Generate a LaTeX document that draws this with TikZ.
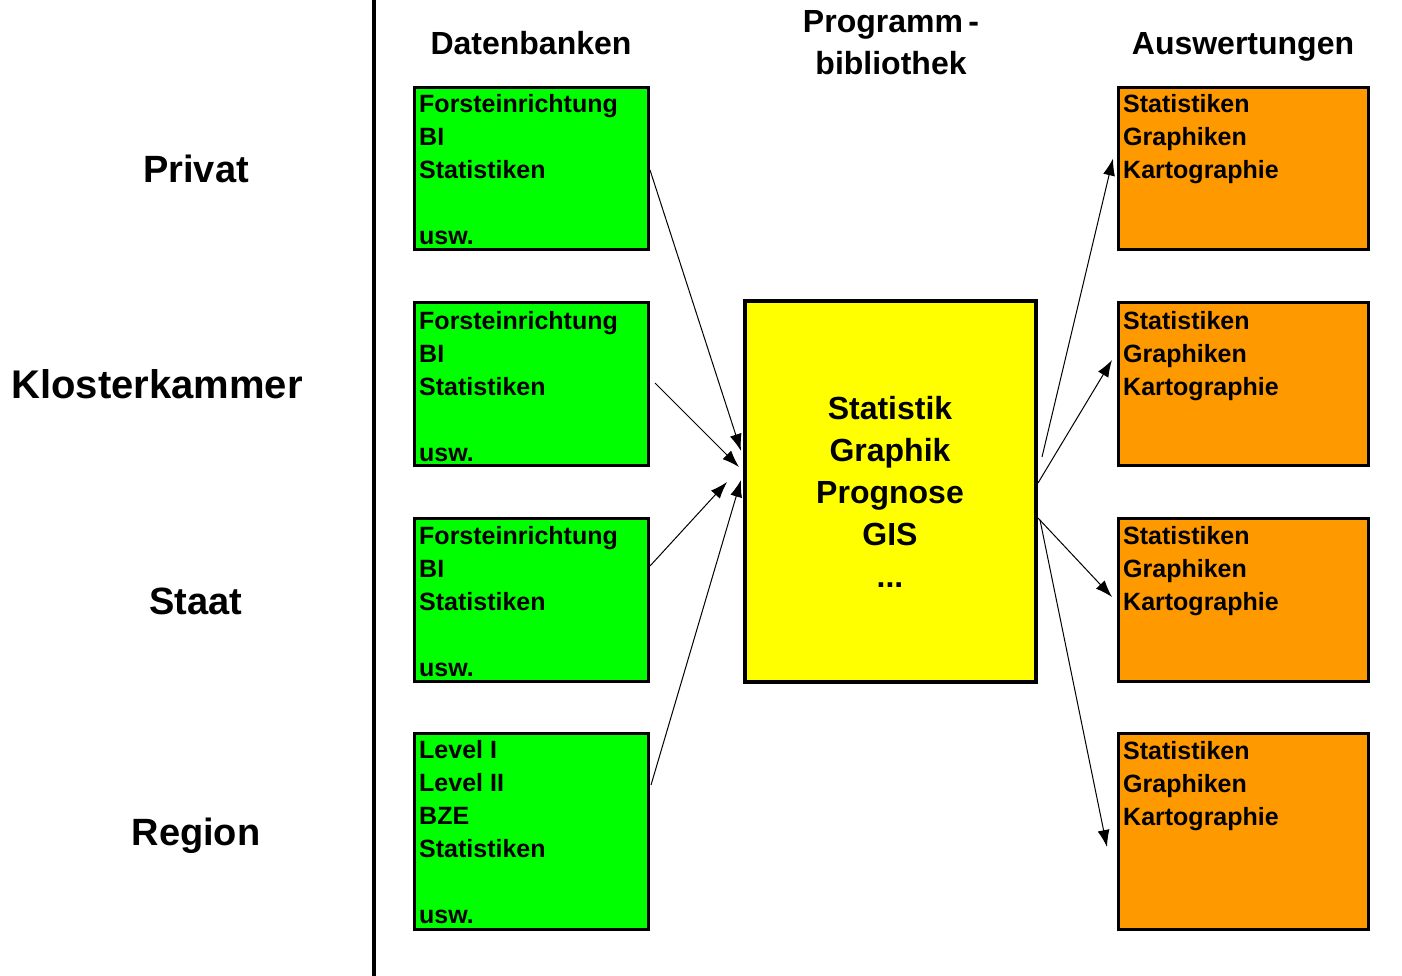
\documentclass[tikz,border=0pt]{standalone}
\usepackage{fontspec}
\setmainfont{Liberation Sans}
\usetikzlibrary{arrows.meta,calc}
\definecolor{boxgreen}{RGB}{0,255,0}
\definecolor{boxorange}{RGB}{255,153,0}
\definecolor{boxyellow}{RGB}{255,255,0}
\newcommand{\toplines}[2]{\parbox[t]{#1}{#2}}
\begin{document}
\begin{tikzpicture}[x=1pt,y=-1pt,
  gbox/.style={draw=black, line width=3pt, fill=boxgreen, minimum width=234pt, inner sep=0pt},
  obox/.style={draw=black, line width=3pt, fill=boxorange, minimum width=250pt, inner sep=0pt},
  ybox/.style={draw=black, line width=4pt, fill=boxyellow, minimum width=291pt, minimum height=381pt, inner sep=0pt},
  boxtext/.style={anchor=base west, inner sep=0pt, font=\bfseries\fontsize{25}{33}\selectfont},
  midtext/.style={anchor=base, inner sep=0pt, font=\bfseries\fontsize{32}{42}\selectfont},
  headtext/.style={anchor=base, inner sep=0pt, font=\bfseries\fontsize{32}{42}\selectfont},
  sidetext/.style={anchor=base, inner sep=0pt, font=\bfseries\fontsize{38}{44}\selectfont},
  conn/.style={line width=1pt, -{Latex[length=17pt,width=12pt]}}]
\useasboundingbox[fill=white] (0,0) rectangle (1402,976);

% divider
\draw[line width=4pt] (373.5,0) -- (373.5,976);

% side labels
\node[sidetext] (lpriv) at (196,183) {Privat};
\node[sidetext, font=\bfseries\fontsize{40}{44}\selectfont] (lklos) at (157,398) {Klosterkammer};
\node[sidetext] (lstaat) at (196,614) {Staat};
\node[sidetext] (lreg) at (196,845) {Region};

% headings
\node[headtext] (hdb) at (531,55) {Datenbanken};
\node[headtext] (hpb) at (891,33) {\toplines{260pt}{\centering Programm\,-\\bibliothek}};
\node[headtext] (hau) at (1243,55) {Auswertungen};

% green boxes
\node[gbox, minimum height=162pt] (g1) at (531.5,168.5) {};
\node[gbox, minimum height=163pt] (g2) at (531.5,384) {};
\node[gbox, minimum height=163pt] (g3) at (531.5,600) {};
\node[gbox, minimum height=196pt] (g4) at (531.5,831.5) {};
\node[boxtext] (t1) at (419,113) {\toplines{228pt}{Forsteinrichtung\\BI\\Statistiken\\[33pt]usw.}};
\node[boxtext] (t2) at (419,329) {\toplines{228pt}{Forsteinrichtung\\BI\\Statistiken\\[33pt]usw.}};
\node[boxtext] (t3) at (419,544) {\toplines{228pt}{Forsteinrichtung\\BI\\Statistiken\\[33pt]usw.}};
\node[boxtext] (t4) at (419,758) {\toplines{228pt}{Level I\\Level II\\BZE\\Statistiken\\[33pt]usw.}};

% yellow box
\node[ybox] (y) at (890.5,491.5) {};
\node[midtext] (yt) at (890,419) {\toplines{280pt}{\centering Statistik\\Graphik\\Prognose\\GIS\\...}};

% orange boxes
\node[obox, minimum height=162pt] (o1) at (1243.5,168.5) {};
\node[obox, minimum height=163pt] (o2) at (1243.5,384) {};
\node[obox, minimum height=163pt] (o3) at (1243.5,600) {};
\node[obox, minimum height=196pt] (o4) at (1243.5,831.5) {};
\node[boxtext] (u1) at (1123,113) {\toplines{240pt}{Statistiken\\Graphiken\\Kartographie}};
\node[boxtext] (u2) at (1123,329) {\toplines{240pt}{Statistiken\\Graphiken\\Kartographie}};
\node[boxtext] (u3) at (1123,544) {\toplines{240pt}{Statistiken\\Graphiken\\Kartographie}};
\node[boxtext] (u4) at (1123,759) {\toplines{240pt}{Statistiken\\Graphiken\\Kartographie}};

% connectors in
\draw[conn] ($(g1.east)+(0,1.5)$) -- ($(y.west)+(-2,-40.5)$);
\draw[conn] ($(g2.east)+(5,-1)$) -- ($(y.west)+(-4,-24.5)$);
\draw[conn] ($(g3.east)+(0,-34)$) -- ($(y.west)+(-16,-9.5)$);
\draw[conn] ($(g4.east)+(1,-46.5)$) -- ($(y.west)+(-2,-11.5)$);

% connectors out
\draw[conn] ($(y.east)+(4,-34.5)$) -- ($(o1.west)+(-4,-10)$);
\draw[conn] ($(y.east)+(0,-8.5)$) -- ($(o2.west)+(-5,-24)$);
\draw[conn] ($(y.east)+(0,26.5)$) -- ($(o3.west)+(-5,-3)$);
\draw[conn] ($(y.east)+(2,28.5)$) -- ($(o4.west)+(-10,15.5)$);
\end{tikzpicture}
\end{document}
